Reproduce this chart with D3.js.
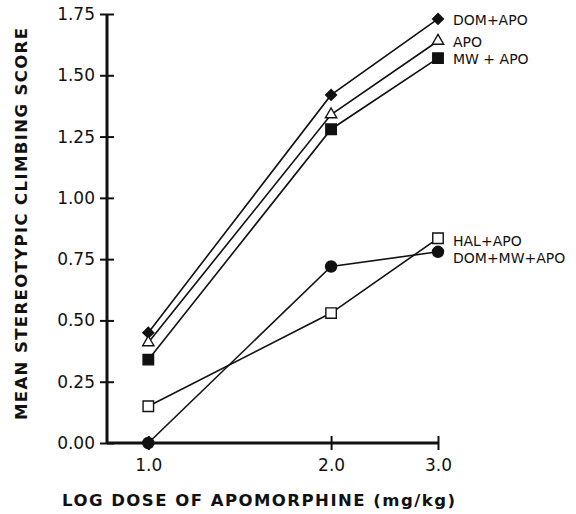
<!DOCTYPE html>
<meta charset="utf-8">
<style>
body { margin: 0; background: #fff; }
text { fill: #111; font-family: "DejaVu Sans", sans-serif; }
.tick text { font-size: 17px; }
.series-label { font-size: 14px; }
.axis-title { font-size: 16.5px; font-weight: bold; }
</style>
<svg width="576" height="514"></svg>
<script src="https://cdn.jsdelivr.net/npm/d3@7"></script>
<script>

// dose (mg/kg) on a log axis
var doses = [1, 2, 3];
var xTickLabels = ["1.0", "2.0", "3.0"];

var yTicks = [0, 0.25, 0.5, 0.75, 1.0, 1.25, 1.5, 1.75];
var yTickLabels = ["0.00", "0.25", "0.50", "0.75", "1.00", "1.25", "1.50", "1.75"];

var domApo = [0.45, 1.42, 1.73];
var apo = [0.41, 1.34, 1.64];
var mwApo = [0.34, 1.28, 1.57];
var halApo = [0.15, 0.53, 0.835];
var domMwApo = [0.0, 0.72, 0.78];

var labels = ["DOM+APO", "APO", "MW + APO", "HAL+APO", "DOM+MW+APO"];

var svg = d3.select("svg");

var x = d3.scaleLog().domain([0.855, 3]).range([107, 438]);
var y = d3.scaleLinear().domain([0, 1.75]).range([443, 14]);

var series = [
  { values: domApo, shape: d3.symbolDiamond2, fill: "#111", size: 75, label: labels[0], dy: 1 },
  { values: apo, shape: d3.symbolTriangle, fill: "#fff", size: 55, label: labels[1], dy: 1 },
  { values: mwApo, shape: d3.symbolSquare, fill: "#111", size: 110, label: labels[2], dy: 1 },
  { values: halApo, shape: d3.symbolSquare, fill: "#fff", size: 110, label: labels[3], dy: 3 },
  { values: domMwApo, shape: d3.symbolCircle, fill: "#111", size: 95, label: labels[4], dy: 6 }
];

// y axis
var yAxis = svg.append("g")
    .attr("transform", "translate(107,0)")
    .call(d3.axisLeft(y).tickValues(yTicks)
      .tickFormat(function(d, i) { return yTickLabels[i]; })
      .tickSize(7).tickPadding(5));
yAxis.select(".domain").remove();
yAxis.selectAll(".tick line").attr("x1", -7).attr("x2", 7)
    .attr("stroke", "#111").attr("stroke-width", 2);
yAxis.selectAll(".tick text").attr("font-family", null).attr("font-size", null);
yAxis.append("line")
    .attr("x1", 0).attr("x2", 0).attr("y1", y(0)).attr("y2", y(1.75))
    .attr("stroke", "#111").attr("stroke-width", 3);

// x axis
var xAxis = svg.append("g")
    .attr("transform", "translate(0," + y(0) + ")")
    .call(d3.axisBottom(x).tickValues(doses)
      .tickFormat(function(d, i) { return xTickLabels[i]; })
      .tickSize(7).tickPadding(9));
xAxis.select(".domain").remove();
xAxis.selectAll(".tick line").attr("y1", -7).attr("y2", 7)
    .attr("stroke", "#111").attr("stroke-width", 2);
xAxis.selectAll(".tick text").attr("font-family", null).attr("font-size", null);
xAxis.append("line")
    .attr("x1", 107).attr("x2", x(3)).attr("y1", 0).attr("y2", 0)
    .attr("stroke", "#111").attr("stroke-width", 3);

// lines
var line = d3.line()
    .x(function(d, i) { return x(doses[i]); })
    .y(function(d) { return y(d); });

series.forEach(function(s) {
  svg.append("path")
      .attr("d", line(s.values))
      .attr("fill", "none")
      .attr("stroke", "#111")
      .attr("stroke-width", 1.6);
});

// markers
series.forEach(function(s) {
  svg.selectAll(null)
    .data(s.values)
    .enter().append("path")
      .attr("transform", function(d, i) { return "translate(" + x(doses[i]) + "," + y(d) + ")"; })
      .attr("d", d3.symbol().type(s.shape).size(s.size))
      .attr("fill", s.fill)
      .attr("stroke", "#111")
      .attr("stroke-width", 1.4);

  svg.append("text")
      .attr("class", "series-label")
      .attr("x", x(doses[2]) + 15)
      .attr("y", y(s.values[2]) + s.dy)
      .attr("dy", "0.35em")
      .text(s.label);
});

// axis titles
svg.append("text")
    .attr("class", "axis-title")
    .attr("transform", "translate(21,224) rotate(-90)")
    .attr("text-anchor", "middle")
    .attr("dy", "0.35em")
    .attr("textLength", 392)
    .text("MEAN STEREOTYPIC CLIMBING SCORE");

svg.append("text")
    .attr("class", "axis-title")
    .attr("x", 62)
    .attr("y", 500)
    .attr("dy", "0.35em")
    .attr("textLength", 393)
    .text("LOG DOSE OF APOMORPHINE  (mg/kg)");

</script>
